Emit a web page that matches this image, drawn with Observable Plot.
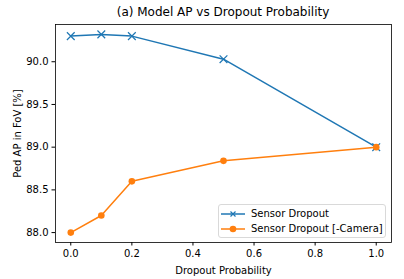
<!DOCTYPE html>
<html>
<head>
<meta charset="utf-8">
<script src="https://cdn.jsdelivr.net/npm/d3@7"></script>
<script src="https://cdn.jsdelivr.net/npm/@observablehq/plot@0.6"></script>
<style>
  html, body { margin: 0; padding: 0; background: #fff; }
  #wrap { position: relative; width: 404px; height: 279px; font-family: "DejaVu Sans", sans-serif; }
  #title { position: absolute; left: 0; width: 446px; top: 5px; text-align: center; font-size: 12px; color: #000; white-space: nowrap; }
  #legend { position: absolute; left: 218px; top: 204px; width: 166px; height: 32px; border: 1px solid #d9d9d9; border-radius: 3px; background: rgba(255,255,255,0.8); font-size: 10px; }
  .row { position: absolute; left: 0; height: 14px; display: flex; align-items: center; white-space: nowrap; }
  .row svg { margin-left: 2px; margin-right: 6px; }
</style>
</head>
<body>
<div id="wrap">
  <div id="chart"></div>
  <div id="title"></div>
  <div id="legend"></div>
</div>
<script>
const titleText = "(a) Model AP vs Dropout Probability";
const xLabel = "Dropout Probability";
const yLabel = "Ped AP in FoV [%]";
const seriesNames = ["Sensor Dropout", "Sensor Dropout [-Camera]"];
const seriesColors = ["#1f77b4", "#ff7f0e"];
const dropout = [0.0, 0.1, 0.2, 0.5, 1.0];
const apSensorDropout = [90.30, 90.32, 90.30, 90.03, 89.00];
const apNoCamera = [88.00, 88.20, 88.60, 88.84, 89.00];
const xTicks = [0.0, 0.2, 0.4, 0.6, 0.8, 1.0];
const yTicks = [88.0, 88.5, 89.0, 89.5, 90.0];

const rowsA = dropout.map((x, i) => ({x, y: apSensorDropout[i]}));
const rowsB = dropout.map((x, i) => ({x, y: apNoCamera[i]}));

const fmt = d3.format(".1f");
const chart = Plot.plot({
  width: 404,
  height: 279,
  marginLeft: 55,
  marginRight: 13,
  marginTop: 24,
  marginBottom: 37,
  style: {fontFamily: "DejaVu Sans, sans-serif", fontSize: "10px", color: "#000", background: "#fff"},
  x: {domain: [-0.05, 1.05], ticks: xTicks, tickFormat: fmt, label: xLabel, labelAnchor: "center", labelArrow: "none", tickSize: 3.5, tickPadding: 3.5, labelOffset: 31},
  y: {domain: [87.884, 90.436], ticks: yTicks, tickFormat: fmt, label: yLabel, labelAnchor: "center", labelArrow: "none", tickSize: 3.5, tickPadding: 3.5, labelOffset: 42},
  marks: [
    Plot.line(rowsA, {x: "x", y: "y", stroke: seriesColors[0], strokeWidth: 1.5}),
    Plot.dot(rowsA, {x: "x", y: "y", symbol: "times", stroke: seriesColors[0], r: 3.6, strokeWidth: 1.2}),
    Plot.line(rowsB, {x: "x", y: "y", stroke: seriesColors[1], strokeWidth: 1.5}),
    Plot.dot(rowsB, {x: "x", y: "y", symbol: "circle", fill: seriesColors[1], r: 3.3}),
    Plot.frame({stroke: "#000", strokeWidth: 0.8})
  ]
});
document.getElementById("chart").appendChild(chart);
document.getElementById("title").textContent = titleText;

const legend = document.getElementById("legend");
seriesNames.forEach((name, i) => {
  const row = document.createElement("div");
  row.className = "row";
  row.style.top = (i === 0 ? 1.5 : 16.5) + "px";
  const mk = i === 0
    ? `<path d="M9.5,3.5 L14.5,8.5 M14.5,3.5 L9.5,8.5" stroke="${seriesColors[i]}" stroke-width="1.2"/>`
    : `<circle cx="12" cy="6" r="3.3" fill="${seriesColors[i]}"/>`;
  row.innerHTML = `<svg width="24" height="12"><line x1="0" y1="6" x2="24" y2="6" stroke="${seriesColors[i]}" stroke-width="1.5"/>${mk}</svg><span>${name}</span>`;
  legend.appendChild(row);
});
</script>
</body>
</html>
